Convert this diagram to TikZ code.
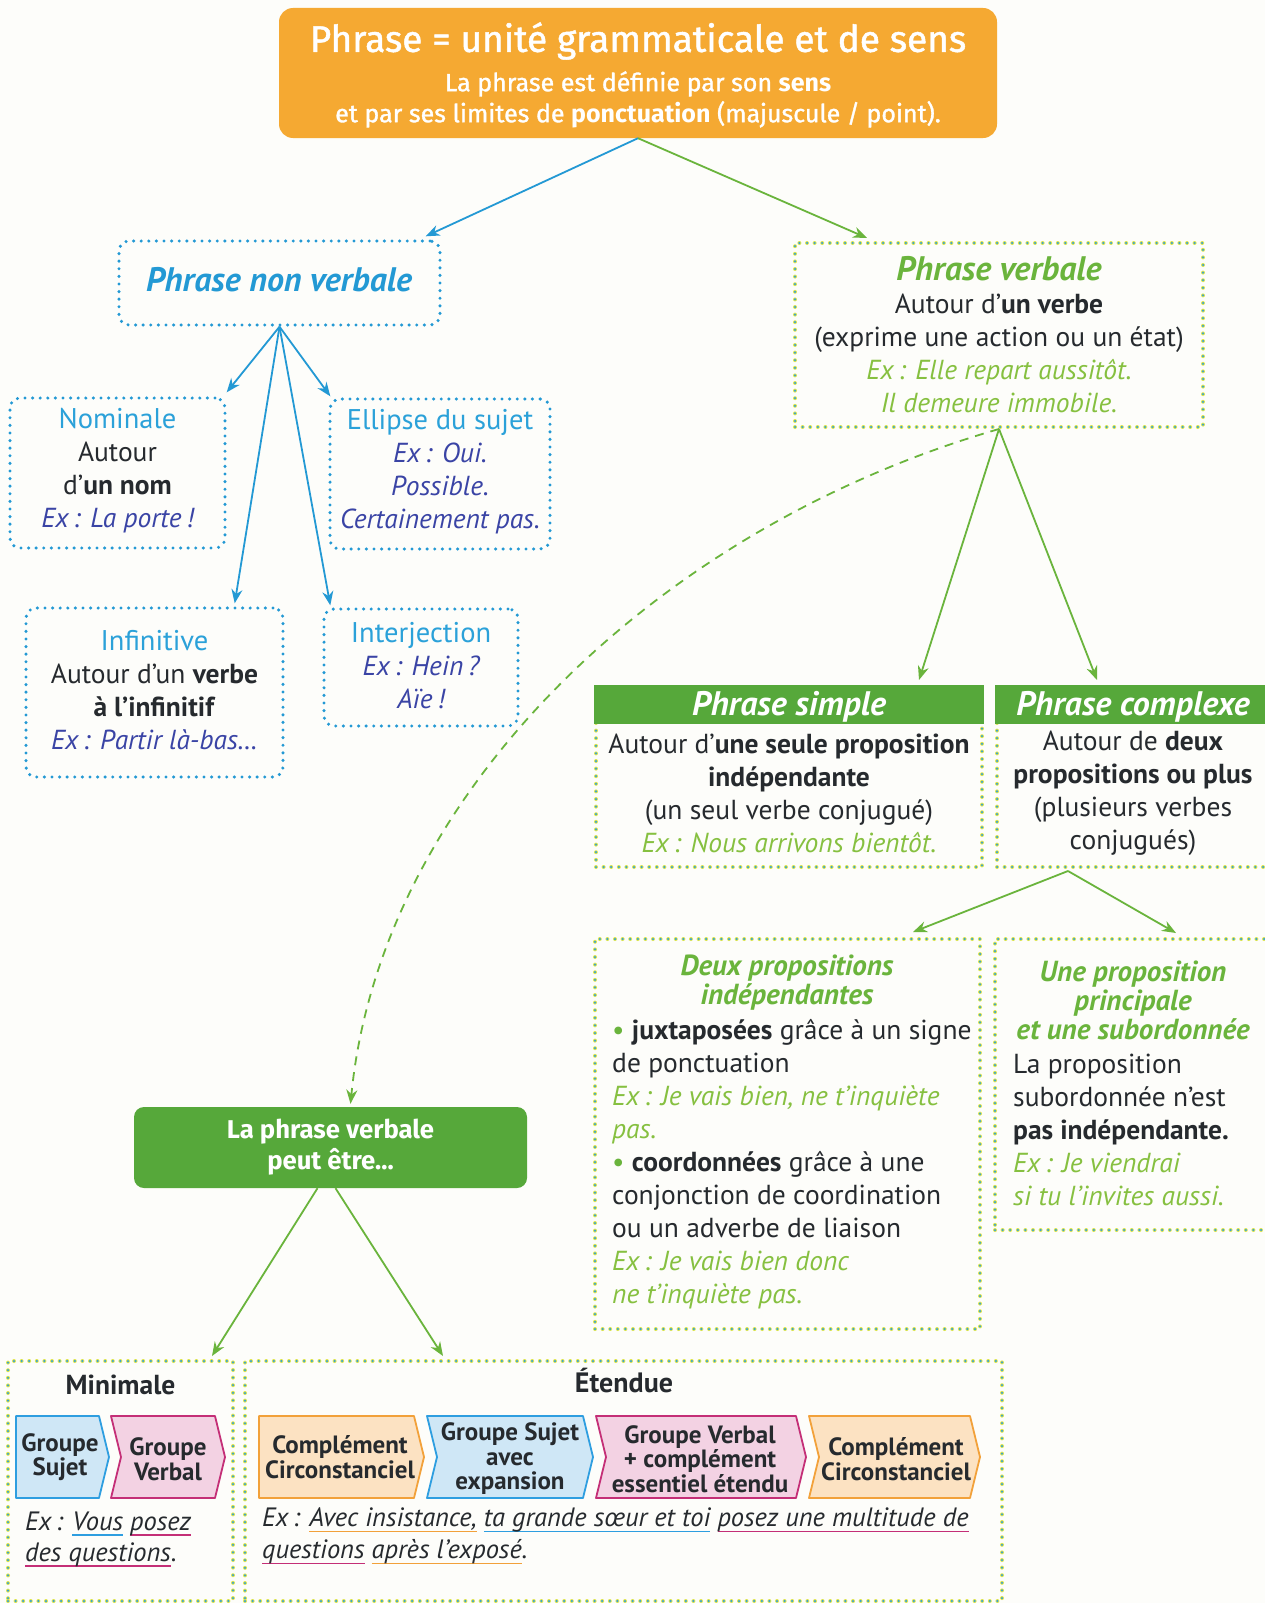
\documentclass[tikz,border=0pt]{standalone}
\usepackage{fontspec}
\setmainfont{PT Sans}
\newfontfamily\fira{Fira Sans}
\newfontface\firamed{Fira Sans}[FakeBold=1.3]
\usetikzlibrary{arrows.meta,calc}
\definecolor{cbg}{HTML}{FDFDFA}
\definecolor{corange}{HTML}{F5A932}
\definecolor{cblue}{HTML}{2399D4}
\definecolor{cbluet}{HTML}{2BA1D9}
\definecolor{cindigo}{HTML}{3A44A5}
\definecolor{cdark}{HTML}{262A2E}
\definecolor{cgreen}{HTML}{6AB43C}
\definecolor{cgreenl}{HTML}{86C040}
\definecolor{cgfill}{HTML}{56A83A}
\definecolor{cylw}{HTML}{E3E84B}
\definecolor{cdotb}{HTML}{3EA3C9}
\definecolor{cbfill}{HTML}{CFE7F6}
\definecolor{cbline}{HTML}{2E9EE0}
\definecolor{cpfill}{HTML}{F3D2E3}
\definecolor{cpline}{HTML}{C42F77}
\definecolor{cofill}{HTML}{FCE2C2}
\definecolor{coline}{HTML}{F2A13A}
\newcommand\bfs{\fontsize{27.5}{33}\selectfont}
\newcommand\cul[2]{\leavevmode\setbox0\hbox{#2}\rlap{\textcolor{#1}{\rule[-6pt]{\wd0}{1.8pt}}}\box0\relax}
\newcommand\chevron[5]{\filldraw[fill=#4, draw=#5, line width=1.8pt, line join=round] (#1,1416) -- (#2-10,1416) -- (#2,1457) -- (#2-10,1498) -- (#1,1498) -- (#1+#3,1457) -- cycle;}
\tikzset{
 bluebox/.style={draw=cblue, line width=3.4pt, dash pattern=on 0pt off 7.6pt, line cap=round, rounded corners=10pt, inner sep=0pt},
 greenbox/.style={draw=cylw, line width=4pt, dash pattern=on 0pt off 7.6pt, line cap=round, inner sep=0pt, postaction={draw=cdotb, line width=2.5pt, dash pattern=on 0pt off 7.6pt, line cap=round}},
 txt/.style={inner sep=0pt, align=center, text=cdark, font=\bfs},
 ltxt/.style={inner sep=0pt, align=left, text=cdark, font=\bfs, anchor=west},
 barrow/.style={cblue, line width=1.8pt, -{Stealth[length=14pt,width=11pt]}},
 garrow/.style={cgreen, line width=1.8pt, -{Stealth[length=14pt,width=11pt]}},
 chevtxt/.style={inner sep=0pt, align=center, text=cdark, font=\fontsize{25}{24.5}\selectfont\bfseries},
 head/.style={inner sep=0pt, align=center, text=cgreen, font=\fontsize{29}{29}\selectfont\bfseries\itshape},
 subt/.style={inner sep=0pt, align=center, text=cbluet, font=\fontsize{28}{33}\selectfont},
}
\begin{document}
\begin{tikzpicture}[x=1pt,y=-1pt]
\useasboundingbox (0,0) rectangle (1265,1603);
\clip (0,0) rectangle (1265,1603);
\fill[cbg] (0,0) rectangle (1265,1603);

% title
\node[fill=corange, rounded corners=14pt, minimum width=718pt, minimum height=130pt, inner sep=0pt] (title) at (638,73) {};
\node[inner sep=0pt, text=white, font=\firamed\fontsize{37}{40}\selectfont] (t1) at (638,41) {Phrase = unité grammaticale et de sens};
\node[inner sep=0pt, text=white, align=center, font=\firamed\fontsize{25}{31}\selectfont] (t2) at (638,99.5) {La phrase est définie par son {\fira\bfseries sens}\\ et par ses limites de {\fira\bfseries ponctuation} (majuscule / point).};

% non verbale
\node[bluebox, minimum width=321pt, minimum height=84pt] (pnv) at (279.5,283) {};
\node[txt, text=cblue, font=\fontsize{34}{36}\selectfont\bfseries\itshape] (pnvt) at (279,280) {Phrase non verbale};

\node[bluebox, minimum width=215pt, minimum height=150pt] (nom) at (117.5,473) {};
\node[txt] (nomt) at (117.5,471) {{\color{cbluet}\fontsize{28.5}{33}\selectfont Nominale}\\ Autour\\ d’\textbf{un nom}\\ {\itshape\color{cindigo}Ex\,: La porte\,!}};

\node[bluebox, minimum width=220pt, minimum height=150pt] (ell) at (440,474) {};
\node[txt] (ellt) at (440,472) {{\color{cbluet}\fontsize{28.5}{33}\selectfont Ellipse du sujet}\\ {\itshape\color{cindigo}Ex\,: Oui.}\\ {\itshape\color{cindigo}Possible.}\\ {\itshape\color{cindigo}Certainement pas.}};

\node[bluebox, minimum width=257pt, minimum height=169pt] (inf) at (154.5,692.5) {};
\node[txt] (inft) at (154.5,690.5) {{\color{cbluet}\fontsize{28.5}{33}\selectfont Infinitive}\\ Autour d’un \textbf{verbe}\\ \textbf{à l’infinitif}\\ {\itshape\color{cindigo}Ex\,: Partir là-bas…}};

\node[bluebox, minimum width=194pt, minimum height=117pt] (itj) at (421,667.5) {};
\node[txt] (itjt) at (421,666) {{\color{cbluet}\fontsize{28.5}{33}\selectfont Interjection}\\ {\itshape\color{cindigo}Ex\,: Hein\,?}\\ {\itshape\color{cindigo}Aïe\,!}};

% verbale
\node[greenbox, minimum width=408pt, minimum height=184pt] (pv) at (999,335) {};
\node[txt] (pvt) at (999,334.5) {{\color{cgreen}\fontsize{34}{33}\selectfont\bfseries\itshape Phrase verbale}\\ Autour d’\textbf{un verbe}\\ (exprime une action ou un état)\\ {\itshape\color{cgreenl}Ex\,: Elle repart aussitôt.}\\ {\itshape\color{cgreenl}Il demeure immobile.}};

\node[greenbox, minimum width=386pt, minimum height=180pt] (sim) at (789,777) {};
\fill[cgfill] (sim.north west) rectangle ($(sim.north east)+(0,39)$);
\node[txt, text=white, font=\fontsize{34}{33}\selectfont\bfseries\itshape] (simh) at (789,707) {Phrase simple};
\node[txt] (simt) at (789,793.5) {Autour d’\textbf{une seule proposition}\\ \textbf{indépendante}\\ (un seul verbe conjugué)\\ {\itshape\color{cgreenl}Ex\,: Nous arrivons bientôt.}};

\node[greenbox, minimum width=272pt, minimum height=180pt] (cpx) at (1133,777) {};
\fill[cgfill] (cpx.north west) rectangle ($(cpx.north east)+(0,39)$);
\node[txt, text=white, font=\fontsize{34}{33}\selectfont\bfseries\itshape] (cpxh) at (1133,707) {Phrase complexe};
\node[txt] (cpxt) at (1133,793.5) {Autour de \textbf{deux}\\ \textbf{propositions ou plus}\\ (plusieurs verbes\\ conjugués)};

\node[greenbox, minimum width=385pt, minimum height=390pt] (dp) at (787.5,1134) {};
\node[head] (dph) at (787,982.5) {Deux propositions\\ indépendantes};
\node[ltxt] (dpt) at (612,1164.5) {{\color{cgreen}•} \textbf{juxtaposées} grâce à un signe\\ de ponctuation\\ {\itshape\color{cgreenl}Ex\,: Je vais bien, ne t’inquiète}\\ {\itshape\color{cgreenl}pas.}\\ {\color{cgreen}•} \textbf{coordonnées} grâce à une\\ conjonction de coordination\\ ou un adverbe de liaison\\ {\itshape\color{cgreenl}Ex\,: Je vais bien donc}\\ {\itshape\color{cgreenl}ne t’inquiète pas.}};

\node[greenbox, minimum width=274pt, minimum height=291pt] (up) at (1132,1084.5) {};
\node[head] (uph) at (1133,1000) {Une proposition\\ principale\\ et une subordonnée};
\node[ltxt] (upt) at (1013,1130) {La proposition\\ subordonnée n’est\\ \textbf{pas indépendante.}\\ {\itshape\color{cgreenl}Ex\,: Je viendrai}\\ {\itshape\color{cgreenl}si tu l’invites aussi.}};

% la phrase verbale peut etre
\node[fill=cgfill, rounded corners=10pt, minimum width=393pt, minimum height=81pt, inner sep=0pt] (pve) at (330.5,1147.5) {};
\node[inner sep=0pt, align=center, text=white, font=\fira\bfseries\fontsize{25.7}{31}\selectfont] (pvet) at (330.5,1147.5) {La phrase verbale\\ peut être…};

% minimale / etendue
\node[greenbox, minimum width=225pt, minimum height=240pt] (mini) at (120.5,1481) {};
\node[txt, font=\fontsize{27.5}{30}\selectfont\bfseries] (minit) at (120.5,1385) {Minimale};
\chevron{16}{109}{0}{cbfill}{cbline}
\chevron{111}{225}{10}{cpfill}{cpline}
\node[chevtxt] (gs1) at (60,1457) {Groupe\\ Sujet};
\node[chevtxt] (gv1) at (168,1459) {Groupe\\ Verbal};
\node[ltxt, font=\fontsize{26.5}{31}\selectfont\itshape] (minex) at (25,1539.5) {Ex\,: \cul{cbline}{Vous} \cul{cpline}{posez}\\ \cul{cpline}{des questions}.};

\node[greenbox, minimum width=757pt, minimum height=240pt] (etd) at (623.5,1481) {};
\node[txt, font=\fontsize{28}{30}\selectfont\bfseries] (etdt) at (624,1380) {Étendue};
\chevron{259}{424}{0}{cofill}{coline}
\chevron{427}{593}{10}{cbfill}{cbline}
\chevron{596}{806}{10}{cpfill}{cpline}
\chevron{809}{980}{10}{cofill}{coline}
\node[chevtxt] (cc1) at (340,1457) {Complément\\ Circonstanciel};
\node[chevtxt] (gs2) at (510,1459) {Groupe Sujet\\ avec\\ expansion};
\node[chevtxt] (gv2) at (700,1459) {Groupe Verbal\\ + complément\\ essentiel étendu};
\node[chevtxt] (cc2) at (896,1459) {Complément\\ Circonstanciel};
\node[ltxt, font=\fontsize{26.5}{32}\selectfont\itshape] (etdex) at (262,1536) {Ex\,: \cul{coline}{Avec insistance,} \cul{cbline}{ta grande sœur et toi} \cul{cpline}{posez une multitude de}\\ \cul{cpline}{questions} \cul{coline}{après l’exposé}.};

% connectors
\draw[barrow] (title.south) -- ($(pnv.north east)+(-16,-3)$);
\draw[garrow] (title.south) -- ($(pv.north west)+(74,-3)$);
\draw[barrow] (pnv.south) -- ($(nom.north east)+(0,-4)$);
\draw[barrow] (pnv.south) -- ($(ell.north west)+(2,-1)$);
\draw[barrow] (pnv.south) -- ($(inf.north east)+(-50,-3)$);
\draw[barrow] (pnv.south) -- ($(itj.north west)+(8,-2)$);
\draw[garrow] (pv.south) -- ($(sim.north east)+(-65,-5)$);
\draw[garrow] (pv.south) -- ($(cpx.north west)+(102,-5)$);
\draw[cgreen, line width=1.8pt, dash pattern=on 9pt off 7pt, -{Stealth[length=14pt,width=11pt]}] (pv.south) .. controls (650,530) and (380,800) .. ($(pve.north)+(20,-3)$);
\coordinate (cpxb) at ($(cpx.south west)+(73,2)$);
\draw[garrow] (cpxb) -- ($(dp.north east)+(-69,-5)$);
\draw[garrow] (cpxb) -- ($(up.north west)+(183,-4)$);
\draw[garrow] ($(pve.south)+(-13,0)$) -- ($(mini.north east)+(-23,-3)$);
\draw[garrow] ($(pve.south)+(5,0)$) -- ($(etd.north west)+(200,-3)$);
\end{tikzpicture}
\end{document}
